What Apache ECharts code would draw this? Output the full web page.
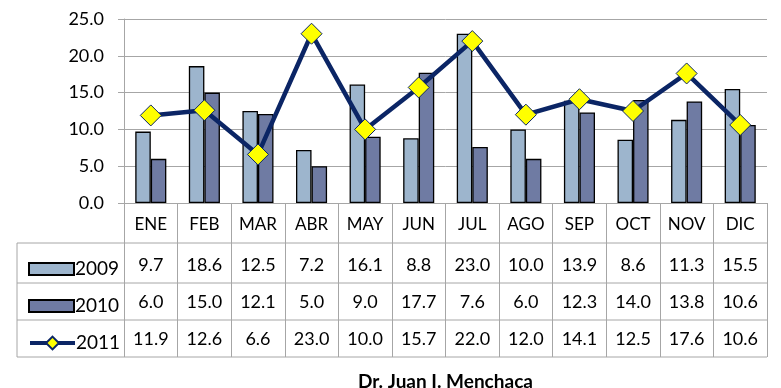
<!DOCTYPE html>
<html>
<head>
<meta charset="utf-8">
<script src="https://cdn.jsdelivr.net/npm/echarts@6/dist/echarts.min.js"></script>
<style>
  html, body { margin: 0; background: #fff; }
  #main { width: 781px; height: 388px; }
</style>
</head>
<body>
<div id="main"></div>
<script>
var months = ['ENE', 'FEB', 'MAR', 'ABR', 'MAY', 'JUN', 'JUL', 'AGO', 'SEP', 'OCT', 'NOV', 'DIC'];
var years = ['2009', '2010', '2011'];
var v2009 = [9.7, 18.6, 12.5, 7.2, 16.1, 8.8, 23.0, 10.0, 13.9, 8.6, 11.3, 15.5];
var v2010 = [6.0, 15.0, 12.1, 5.0, 9.0, 17.7, 7.6, 6.0, 12.3, 14.0, 13.8, 10.6];
var v2011 = [11.9, 12.6, 6.6, 23.0, 10.0, 15.7, 22.0, 12.0, 14.1, 12.5, 17.6, 10.6];
var caption = 'Dr. Juan I. Menchaca';

// layout (px)
var W = 781, H = 388;
var plotL = 124, plotR = 767, plotT = 19, plotB = 203;
var tableL = 17;
var rowLines = [243, 283, 320, 357];
var rowMid = [265, 302, 339];
var gridCol = '#a6a6a6';
var font = 'Lato';

var chart = echarts.init(document.getElementById('main'));

function fmt(a) { return a.map(function (v) { return v.toFixed(1); }); }

function valueAxis(data, mid) {
    return {
        type: 'category',
        data: data,
        position: 'bottom',
        axisLine: { show: false },
        axisTick: { show: false },
        axisLabel: {
            interval: 0, margin: mid - plotB, verticalAlign: 'middle',
            fontFamily: font, fontSize: 18, color: '#000'
        }
    };
}

function legendAt(name, mid, h, icon) {
    var l = {
        data: [{ name: name }],
        left: tableL + 6,
        top: mid - 12,
        itemWidth: 45,
        itemHeight: h,
        itemGap: 0,
        textStyle: { fontFamily: font, fontSize: 19, color: '#000', lineHeight: 22, padding: [0, 0, 0, -4] },
        selectedMode: false
    };
    if (icon) l.data[0].icon = icon;
    else l.lineStyle = { width: 4, color: '#0b2565' };
    return l;
}

var lines = [];
rowLines.forEach(function (y) {
    lines.push({ type: 'line', shape: { x1: tableL, y1: y, x2: plotR, y2: y }, style: { stroke: gridCol, lineWidth: 1 } });
});
lines.push({ type: 'line', shape: { x1: tableL, y1: rowLines[0], x2: tableL, y2: rowLines[3] }, style: { stroke: gridCol, lineWidth: 1 } });

var option = {
    animation: false,
    title: {
        text: caption,
        left: 353, top: 367,
        textStyle: { fontFamily: font, fontSize: 19, fontWeight: 'bold', color: '#000' }
    },
    grid: { left: plotL, right: W - plotR, top: plotT, bottom: H - plotB, containLabel: false },
    legend: [
        legendAt(years[0], rowMid[0], 12, 'rect'),
        legendAt(years[1], rowMid[1], 12, 'rect'),
        legendAt(years[2], rowMid[2], 16)
    ],
    xAxis: [
        {
            type: 'category',
            data: months,
            position: 'bottom',
            axisLine: { lineStyle: { color: gridCol } },
            axisTick: { show: true, interval: 0, length: rowLines[3] - plotB, lineStyle: { color: gridCol } },
            axisLabel: {
                interval: 0, margin: 22, verticalAlign: 'middle',
                fontFamily: font, fontSize: 17, color: '#000'
            }
        },
        valueAxis(fmt(v2009), rowMid[0]),
        valueAxis(fmt(v2010), rowMid[1]),
        valueAxis(fmt(v2011), rowMid[2])
    ],
    yAxis: {
        type: 'value',
        min: 0, max: 25, interval: 5,
        axisLine: { show: true, lineStyle: { color: gridCol } },
        axisTick: { show: true, length: 6, lineStyle: { color: gridCol } },
        splitLine: { lineStyle: { color: gridCol } },
        axisLabel: {
            margin: 20,
            formatter: function (v) { return v.toFixed(1); },
            fontFamily: font, fontSize: 18, color: '#000'
        }
    },
    series: [
        {
            name: years[0], type: 'bar', data: v2009,
            barGap: 0, barCategoryGap: '42%',
            itemStyle: { color: '#9db5cd', borderColor: '#000', borderWidth: 1.3 }
        },
        {
            name: years[1], type: 'bar', data: v2010,
            itemStyle: { color: '#6f7ba3', borderColor: '#000', borderWidth: 1.3 }
        },
        {
            name: years[2], type: 'line', data: v2011,
            symbol: 'diamond', symbolSize: 21,
            lineStyle: { color: '#0b2565', width: 4.5 },
            itemStyle: { color: '#ffff00', borderColor: '#0b2565', borderWidth: 1 },
            z: 5
        }
    ],
    graphic: lines
};

chart.setOption(option);
window.onresize = function () { chart.resize(); };
</script>
</body>
</html>
